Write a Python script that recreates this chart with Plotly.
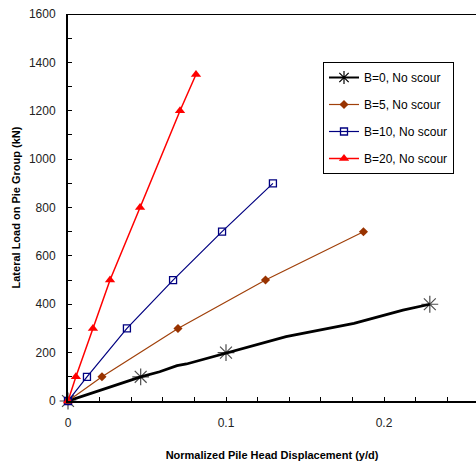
import plotly.graph_objects as go

# ---- data ----
b0_x = [0, 0.046, 0.058, 0.069, 0.075, 0.084, 0.100, 0.138, 0.181, 0.212, 0.229]
b0_y = [0, 100, 121, 146, 153, 169, 200, 266, 321, 376, 400]
b0_marked = [1, 1, 0, 0, 0, 0, 1, 0, 0, 0, 1]

b5_x = [0, 0.0215, 0.0696, 0.125, 0.187]
b5_y = [0, 100, 300, 500, 700]

b10_x = [0, 0.012, 0.0373, 0.0665, 0.0975, 0.1297]
b10_y = [0, 100, 300, 500, 700, 900]

b20_x = [0, 0.005, 0.0158, 0.0266, 0.0456, 0.0709, 0.081]
b20_y = [0, 100, 300, 500, 800, 1200, 1350]

names = ["B=0, No scour", "B=5, No scour", "B=10, No scour", "B=20, No scour"]
x_ticks = [0, 0.1, 0.2]
x_tick_text = ["0", "0.1", "0.2"]
y_ticks = [0, 200, 400, 600, 800, 1000, 1200, 1400, 1600]

FONT = "Arial, Liberation Sans, sans-serif"
fig = go.Figure()

# B=0 curve (markers only at measured points)
fig.add_trace(go.Scatter(
    x=b0_x, y=b0_y, mode="lines+markers", showlegend=False, legendgroup="g0",
    line=dict(color="black", width=2.8),
    marker=dict(symbol="asterisk-open", size=[14 if m else 0 for m in b0_marked],
                color="black", line=dict(color="black", width=1.2)),
    cliponaxis=False,
))
fig.add_trace(go.Scatter(
    x=[None], y=[None], mode="lines+markers", name=names[0], legendgroup="g0",
    line=dict(color="black", width=2),
    marker=dict(symbol="asterisk-open", size=11, color="black",
                line=dict(color="black", width=1.2)),
))
fig.add_trace(go.Scatter(
    x=b5_x, y=b5_y, mode="lines+markers", name=names[1], legendgroup="g1",
    line=dict(color="#A0400A", width=1.2),
    marker=dict(symbol="diamond", size=7, color="#993300"),
    cliponaxis=False,
))
fig.add_trace(go.Scatter(
    x=b10_x, y=b10_y, mode="lines+markers", name=names[2], legendgroup="g2",
    line=dict(color="#000080", width=1.2),
    marker=dict(symbol="square-open", size=7, color="#000080",
                line=dict(color="#000080", width=1.3)),
    cliponaxis=False,
))
fig.add_trace(go.Scatter(
    x=b20_x, y=b20_y, mode="lines+markers", name=names[3], legendgroup="g3",
    line=dict(color="#FF0000", width=1.5),
    marker=dict(symbol="triangle-up", size=9, color="#FF0000"),
    cliponaxis=False,
))

# top border line
fig.add_shape(type="line", xref="paper", yref="y", x0=0, x1=1, y0=1600, y1=1600,
              line=dict(color="black", width=2))

fig.update_layout(
    width=476, height=466,
    margin=dict(l=68, r=0, t=14, b=65),
    paper_bgcolor="white", plot_bgcolor="white",
    font=dict(family=FONT, size=12, color="#222"),
    legend=dict(
        x=(323 - 68) / 408, y=(401 - 62) / 387, xanchor="left", yanchor="top",
        bgcolor="white", bordercolor="black", borderwidth=1,
        font=dict(family=FONT, size=12, color="black"),
        tracegroupgap=8,
    ),
    xaxis=dict(
        range=[0, 408 / 1580], showgrid=False, zeroline=False,
        showline=True, linecolor="black", linewidth=2,
        tickvals=x_ticks, ticktext=x_tick_text, ticks="inside", ticklen=4,
        tickcolor="black", tickwidth=1, ticklabelstandoff=10,
        minor=dict(dtick=0.02, ticks="inside", ticklen=4, tickcolor="black", tickwidth=1),
        tickfont=dict(family=FONT, size=12, color="#222"),
        title=dict(text="<b>Normalized Pile Head Displacement (y/d)</b>",
                   font=dict(family=FONT, size=11, color="black"), standoff=22),
    ),
    yaxis=dict(
        range=[0, 1600], showgrid=False, zeroline=False,
        showline=True, linecolor="black", linewidth=2,
        tickvals=y_ticks, ticks="inside", ticklen=4, tickcolor="black", tickwidth=1,
        ticklabelstandoff=8,
        minor=dict(dtick=100, ticks="inside", ticklen=4, tickcolor="black", tickwidth=1),
        tickfont=dict(family=FONT, size=12, color="#222"),
        title=dict(text="<b>Lateral Load on Pie Group (kN)</b>",
                   font=dict(family=FONT, size=11, color="black"), standoff=6),
    ),
)

fig.write_html("out.html")
